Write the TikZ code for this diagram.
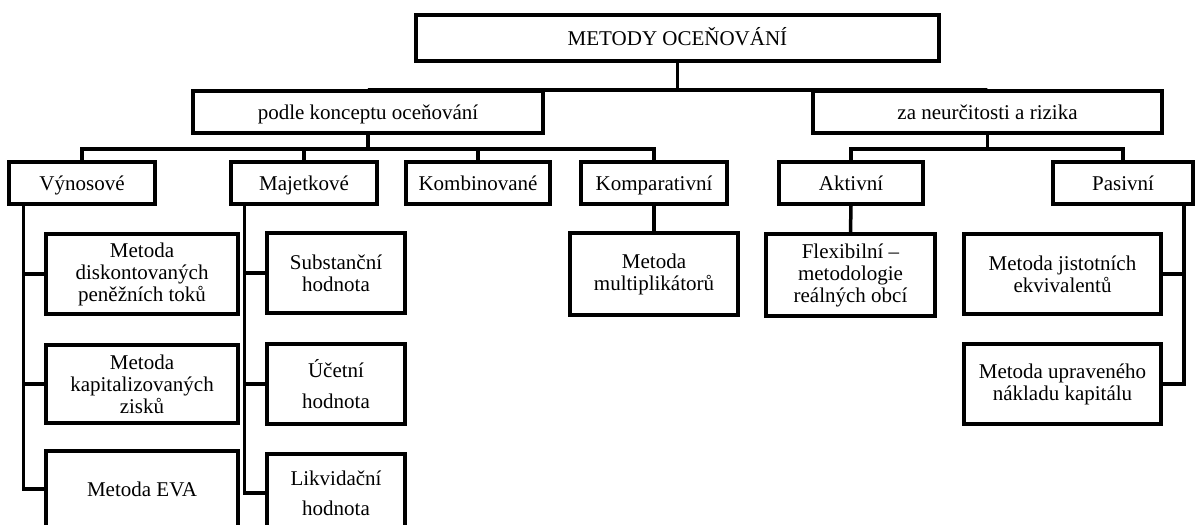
\documentclass[tikz,border=0pt]{standalone}
\usepackage{fontspec}
\setmainfont{Liberation Serif}
\usepackage{tikz}

\begin{document}
\begin{tikzpicture}[x=1pt, y=-1pt,
    box/.style={draw, line width=3.5pt, inner sep=0pt, align=center,
        font=\fontsize{21}{22}\selectfont},
    line/.style={box, text height=17pt, text depth=3pt},
    link/.style={line width=3.5pt}]
\useasboundingbox (0,0) rectangle (1195,525);
% top levels
\node [line, minimum width=523pt, minimum height=46pt] (metody) at (677.5,38) {METODY OCEŇOVÁNÍ};
\node [line, minimum width=350pt, minimum height=42pt] (koncept) at (368,112) {podle konceptu oceňování};
\node [line, minimum width=349pt, minimum height=42pt] (riziko) at (987.5,112) {za neurčitosti a rizika};
% groups
\node [line, minimum width=146pt, minimum height=42pt] (vynos) at (82,183) {Výnosové};
\node [line, minimum width=146pt, minimum height=42pt] (majetek) at (304,183) {Majetkové};
\node [line, minimum width=144pt, minimum height=42pt] (kombi) at (478,183) {Kombinované};
\node [line, minimum width=146pt, minimum height=42pt] (kompar) at (654,183) {Komparativní};
\node [line, minimum width=144pt, minimum height=42pt] (aktiv) at (851,183) {Aktivní};
\node [line, minimum width=140pt, minimum height=42pt] (pasiv) at (1123,183) {Pasivní};
% methods
\node [box, minimum width=192pt, minimum height=80pt] (dcf) at (142,274) {Metoda\\diskontovaných\\peněžních toků};
\node [box, minimum width=192pt, minimum height=78pt] (kapzisk) at (142,384) {Metoda\\kapitalizovaných\\zisků};
\node [line, minimum width=192pt, minimum height=76pt] (eva) at (142,489) {Metoda EVA};
\node [box, minimum width=138pt, minimum height=80pt] (subst) at (336,273) {Substanční\\hodnota};
\node [box, minimum width=138pt, minimum height=80pt] (ucet) at (336,384) {Účetní\\[9pt]hodnota};
\node [box, minimum width=138pt, minimum height=78pt] (likv) at (336,493) {Likvidační\\[8pt]hodnota};
\node [box, minimum width=168pt, minimum height=82pt] (multi) at (654,274) {Metoda\\multiplikátorů};
\node [box, minimum width=169pt, minimum height=82pt] (flex) at (850.5,275) {Flexibilní --\\metodologie\\reálných obcí};
\node [box, minimum width=197pt, minimum height=80pt] (jist) at (1062.5,274) {Metoda jistotních\\ekvivalentů};
\node [box, minimum width=197pt, minimum height=80pt] (wacc) at (1062.5,384) {Metoda upraveného\\nákladu kapitálu};
% connectors
\draw [link] (metody.south) -- ++(0,27) -| (koncept.north);
\draw [link] (metody.south) -- ++(0,27) -| (riziko.north);
\foreach \n in {vynos, majetek, kombi, kompar}
    \draw [link] (koncept.south) -- ++(0,14) -| (\n.north);
\foreach \n in {aktiv, pasiv}
    \draw [link] (riziko.south) -- ++(0,14) -| (\n.north);
\foreach \n in {dcf, kapzisk, eva}
    \draw [link] ([xshift=16pt]vynos.south west) |- (\n.west);
\foreach \n in {subst, ucet, likv}
    \draw [link] ([xshift=15pt]majetek.south west) |- (\n.west);
\foreach \n in {jist, wacc}
    \draw [link] ([xshift=-11pt]pasiv.south east) |- (\n.east);
\draw [link] (kompar.south) -- (multi.north);
\draw [link] (aktiv.south) -- (flex.north);
\end{tikzpicture}
\end{document}
